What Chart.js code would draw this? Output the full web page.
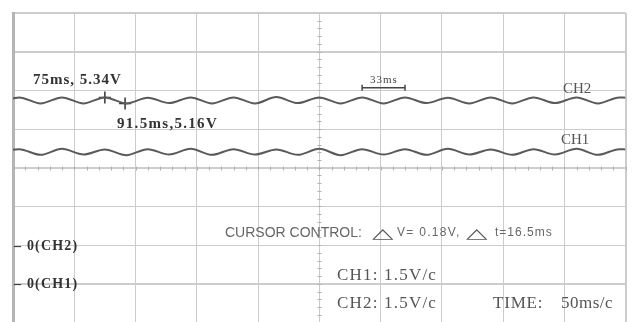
<!DOCTYPE html>
<html>
<head>
<meta charset="utf-8">
<script src="https://cdn.jsdelivr.net/npm/chart.js@4"></script>
<style>
  html, body { margin: 0; padding: 0; background: #fff; overflow: hidden; }
  #wrap { width: 633px; height: 322px; overflow: hidden; position: relative; }
  #scope { position: absolute; left: 0; top: 0; }
</style>
</head>
<body>
<div id="wrap"><canvas id="scope" width="633" height="330"></canvas></div>
<script>
// time of each peak / trough (ms)
const times = [0, 5, 22.5, 40, 57.5, 75, 92.5, 110, 127.5, 145, 162.5, 180, 197.5, 215, 232.5,
    250, 267.5, 285, 302.5, 320, 337.5, 355, 372.5, 390, 407.5, 425, 442.5, 460, 477.5, 495, 500];
// CH2 ripple (V)
const ch2Volts = [5.31, 5.34, 5.16, 5.34, 5.16, 5.34, 5.16, 5.33, 5.17, 5.34, 5.16, 5.34, 5.16, 5.35, 5.17,
    5.34, 5.16, 5.34, 5.16, 5.34, 5.17, 5.33, 5.16, 5.34, 5.16, 5.34, 5.17, 5.34, 5.16, 5.34, 5.33];
// CH1 ripple (V)
const ch1Volts = [4.84, 4.86, 4.69, 4.87, 4.70, 4.85, 4.68, 4.86, 4.70, 4.87, 4.69, 4.86, 4.70, 4.85, 4.69,
    4.87, 4.68, 4.86, 4.70, 4.86, 4.69, 4.87, 4.70, 4.85, 4.69, 4.86, 4.70, 4.87, 4.69, 4.86, 4.85];
// cursors
const cursorTimes = [75, 91.5];
const cursorVolts = [5.34, 5.16];
// period marker (ms) and its height on CH2 (V)
const markerTimes = [285, 320];
const markerVolt = 5.63;

function toPoints(xs, ys) {
    let pts = [];
    for (let i = 0; i < xs.length; i++) {
        pts.push({ x: xs[i], y: ys[i] });
    }
    return pts;
}

function txt(ctx, s, x, y, font, color, spacing) {
    ctx.save();
    ctx.font = font;
    ctx.fillStyle = color;
    ctx.letterSpacing = (spacing || 0) + 'px';
    ctx.textBaseline = 'middle';
    ctx.textAlign = 'left';
    ctx.fillText(s, x, y);
    ctx.restore();
}

function tri(ctx, x, y) {
    ctx.save();
    ctx.font = "14px 'DejaVu Sans'";
    ctx.fillStyle = '#555';
    ctx.textBaseline = 'middle';
    ctx.translate(x, y);
    ctx.scale(2.0, 1);
    ctx.fillText('\u25B3', 0, 0);
    ctx.restore();
}

const graticule = {
    id: 'graticule',
    beforeDatasetsDraw(chart) {
        const ctx = chart.ctx;
        const xs = chart.scales.x;
        const ds = chart.scales.div;
        ctx.save();
        ctx.strokeStyle = '#b0b0b0';
        ctx.lineWidth = 1;
        const cx = Math.round(xs.getPixelForValue(250)) + 0.5;
        const cy = Math.round(ds.getPixelForValue(4)) + 0.5;
        ctx.beginPath();
        for (let t = 0; t <= 500; t += 10) {
            const px = Math.round(xs.getPixelForValue(t)) + 0.5;
            ctx.moveTo(px, cy - 2);
            ctx.lineTo(px, cy + 2);
        }
        for (let d = 0; d <= 8; d += 0.2) {
            const py = Math.round(ds.getPixelForValue(d)) + 0.5;
            ctx.moveTo(cx - 2, py);
            ctx.lineTo(cx + 2, py);
        }
        ctx.stroke();
        ctx.restore();
    },
    afterDraw(chart) {
        const ctx = chart.ctx;
        const ds = chart.scales.div;
        const bold = "bold 15px 'Liberation Serif'";
        txt(ctx, '75ms, 5.34V', 33, 80, bold, '#333', 1);
        txt(ctx, '91.5ms,5.16V', 117, 124, bold, '#333', 1.3);
        txt(ctx, '33ms', 370, 80, "11px 'Liberation Serif'", '#444', 1);
        txt(ctx, 'CH2', 563, 89, "15px 'Liberation Serif'", '#555', 0);
        txt(ctx, 'CH1', 561, 140, "15px 'Liberation Serif'", '#555', 0);

        txt(ctx, 'CURSOR CONTROL:', 225, 233, "14px 'Liberation Sans'", '#666', 0);
        tri(ctx, 372, 234);
        txt(ctx, 'V= 0.18V,', 397, 233, "12px 'Liberation Sans'", '#666', 1.3);
        tri(ctx, 466, 234);
        txt(ctx, 't=16.5ms', 495, 233, "12px 'Liberation Sans'", '#666', 1);

        txt(ctx, '\u2013 0(CH2)', 14, ds.getPixelForValue(2) + 1, "bold 14px 'Liberation Serif'", '#333', 1.2);
        txt(ctx, '\u2013 0(CH1)', 14, ds.getPixelForValue(1) + 1, "bold 14px 'Liberation Serif'", '#333', 1.2);

        const big = "17px 'Liberation Serif'";
        txt(ctx, 'CH1: 1.5V/c', 337, 276, big, '#555', 1.2);
        txt(ctx, 'CH2: 1.5V/c', 337, 304, big, '#555', 1.2);
        txt(ctx, 'TIME:', 493, 304, big, '#555', 0.8);
        txt(ctx, '50ms/c', 561, 304, big, '#555', 0.5);
    }
};

const data = {
    datasets: [
        {
            label: 'CH2',
            data: toPoints(times, ch2Volts),
            yAxisID: 'yCh2',
            borderColor: '#5a5a5a',
            borderWidth: 2,
            pointRadius: 0,
            cubicInterpolationMode: 'monotone'
        },
        {
            label: 'CH1',
            data: toPoints(times, ch1Volts),
            yAxisID: 'yCh1',
            borderColor: '#5a5a5a',
            borderWidth: 2,
            pointRadius: 0,
            cubicInterpolationMode: 'monotone'
        },
        {
            label: 'cursors',
            data: toPoints(cursorTimes, cursorVolts),
            yAxisID: 'yCh2',
            showLine: false,
            pointStyle: 'cross',
            pointRadius: 6,
            borderWidth: 1.5,
            borderColor: '#333'
        },
        {
            label: 'period',
            data: toPoints(markerTimes, [markerVolt, markerVolt]),
            yAxisID: 'yCh2',
            borderColor: '#444',
            borderWidth: 1.5,
            pointStyle: 'line',
            rotation: 90,
            pointRadius: 3,
            pointBorderWidth: 1.5
        }
    ]
};

const config = {
    type: 'line',
    data: data,
    options: {
        responsive: false,
        animation: false,
        events: [],
        layout: { padding: { left: 13, top: 13, right: 3, bottom: 3 } },
        plugins: { legend: { display: false }, tooltip: { enabled: false } },
        scales: {
            x: {
                type: 'linear',
                min: 0,
                max: 500,
                ticks: { display: false, stepSize: 50 },
                grid: {
                    drawTicks: false,
                    color: '#cccccc',
                    lineWidth: (c) => (c.tick && (c.tick.value === 0 || c.tick.value === 500)) ? 2 : 1
                },
                border: { display: false }
            },
            div: {
                type: 'linear',
                position: 'left',
                min: 0,
                max: 8,
                ticks: { display: false, stepSize: 1 },
                grid: {
                    drawTicks: false,
                    color: '#cccccc',
                    lineWidth: (c) => (c.tick && [8, 7, 4, 1].includes(c.tick.value)) ? 2 : 1
                },
                border: { display: true, color: '#b5b5b5', width: 3 }
            },
            yCh2: { type: 'linear', display: false, min: -1.38, max: 7.86 },
            yCh1: { type: 'linear', display: false, min: -0.31, max: 8.92 }
        }
    },
    plugins: [graticule]
};

window.scope = new Chart(document.getElementById('scope'), config);
</script>
</body>
</html>
